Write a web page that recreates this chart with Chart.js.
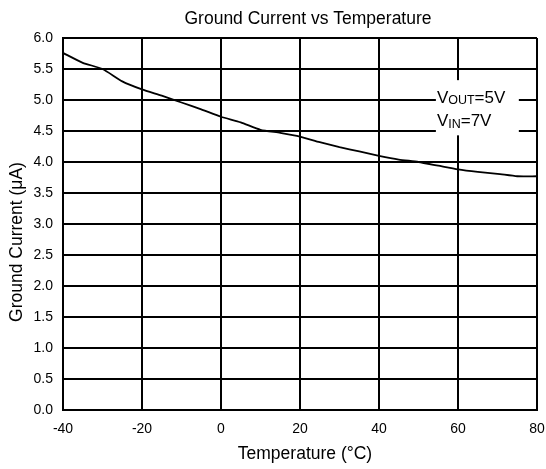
<!DOCTYPE html>
<html>
<head>
<meta charset="utf-8">
<script src="https://cdn.jsdelivr.net/npm/chart.js@4/dist/chart.umd.min.js"></script>
<style>
  html, body { margin: 0; padding: 0; background: #fff; }
  #wrap { width: 546px; height: 469px; }
</style>
</head>
<body>
<div id="wrap"><canvas id="gc"></canvas></div>
<script>
// --- DATA ---
const temps = [-40, -35, -30, -25, -20, -15, -10, -5, 0, 5, 10, 15, 20, 25, 30, 35, 40, 45, 50, 55, 60, 65, 70, 75, 80];
const groundCurrent = [5.76, 5.6, 5.5, 5.3, 5.17, 5.07, 4.96, 4.85, 4.73, 4.64, 4.52, 4.47, 4.41, 4.32, 4.24, 4.17, 4.1, 4.04, 4.0, 3.94, 3.88, 3.84, 3.81, 3.77, 3.77];
const xTicks = [-40, -20, 0, 20, 40, 60, 80];
const yTicks = [0, 0.5, 1, 1.5, 2, 2.5, 3, 3.5, 4, 4.5, 5, 5.5, 6];
const noteLines = [['V', 'OUT', '=5V'], ['V', 'IN', '=7V']];
const chartTitle = 'Ground Current vs Temperature';
const xTitle = 'Temperature (\u00B0C)';
const yTitle = 'Ground Current (\u03BCA)';

const FONT = '"Liberation Sans", Arial, sans-serif';

// titles sit a bit off the plot centre in the original, so draw them by hand
const labelsPlugin = {
    id: 'labels',
    afterDraw(chart) {
        const { ctx, chartArea } = chart;
        const midX = (chartArea.left + chartArea.right) / 2;
        const midY = (chartArea.top + chartArea.bottom) / 2;
        ctx.save();
        ctx.fillStyle = '#000';
        ctx.textAlign = 'center';
        ctx.textBaseline = 'middle';
        ctx.font = '17.5px ' + FONT;
        ctx.fillText(chartTitle, midX + 8, 19);
        ctx.fillText(xTitle, midX + 5, chartArea.bottom + 44);
        ctx.translate(17, midY + 18);
        ctx.rotate(-Math.PI / 2);
        ctx.fillText(yTitle, 0, 0);
        ctx.restore();
    }
};

// white box with the test conditions, covers the grid
const notePlugin = {
    id: 'note',
    afterDraw(chart) {
        const { ctx, scales: { x, y } } = chart;
        const left = x.getPixelForValue(54.4), right = x.getPixelForValue(75.4);
        const top = y.getPixelForValue(5.32), bottom = y.getPixelForValue(4.43);
        ctx.save();
        ctx.fillStyle = '#fff';
        ctx.fillRect(left, top, right - left, bottom - top);
        ctx.fillStyle = '#000';
        ctx.textBaseline = 'alphabetic';
        noteLines.forEach((parts, i) => {
            let cx = left + 1;
            const base = top + 23 + i * 23;
            ctx.font = '17px ' + FONT;
            ctx.fillText(parts[0], cx, base);
            cx += ctx.measureText(parts[0]).width;
            ctx.font = '12.5px ' + FONT;
            ctx.fillText(parts[1], cx, base + 1 + i);
            cx += ctx.measureText(parts[1]).width;
            ctx.font = '17px ' + FONT;
            ctx.fillText(parts[2], cx, base);
        });
        ctx.restore();
    }
};

new Chart(document.getElementById('gc'), {
    type: 'line',
    data: {
        datasets: [{
            data: temps.map((t, i) => ({ x: t, y: groundCurrent[i] })),
            borderColor: '#000',
            borderWidth: 1.8,
            pointRadius: 0,
            tension: 0.2,
            fill: false
        }]
    },
    options: {
        responsive: true,
        maintainAspectRatio: false,
        animation: false,
        layout: { padding: { top: 38, right: 9, left: 0, bottom: 0 } },
        plugins: {
            legend: { display: false },
            tooltip: { enabled: false },
            title: { display: false }
        },
        scales: {
            x: {
                type: 'linear',
                min: -40, max: 80,
                afterBuildTicks: s => { s.ticks = xTicks.map(v => ({ value: v })); },
                afterFit: s => { s.height = 59; s.paddingLeft = 0; s.paddingRight = 0; },
                grid: { color: '#000', lineWidth: 2, drawTicks: false },
                border: { color: '#000', width: 2 },
                ticks: { color: '#000', padding: 11, maxRotation: 0, font: { family: FONT, size: 14 } },
                title: { display: false }
            },
            y: {
                min: 0, max: 6,
                afterBuildTicks: s => { s.ticks = yTicks.map(v => ({ value: v })); },
                afterFit: s => { s.width = 63; s.paddingTop = 0; s.paddingBottom = 0; },
                grid: { color: '#000', lineWidth: 2, drawTicks: false },
                border: { color: '#000', width: 2 },
                ticks: { color: '#000', padding: 10, font: { family: FONT, size: 14 }, callback: v => v.toFixed(1) },
                title: { display: false }
            }
        }
    },
    plugins: [labelsPlugin, notePlugin]
});
</script>
</body>
</html>
